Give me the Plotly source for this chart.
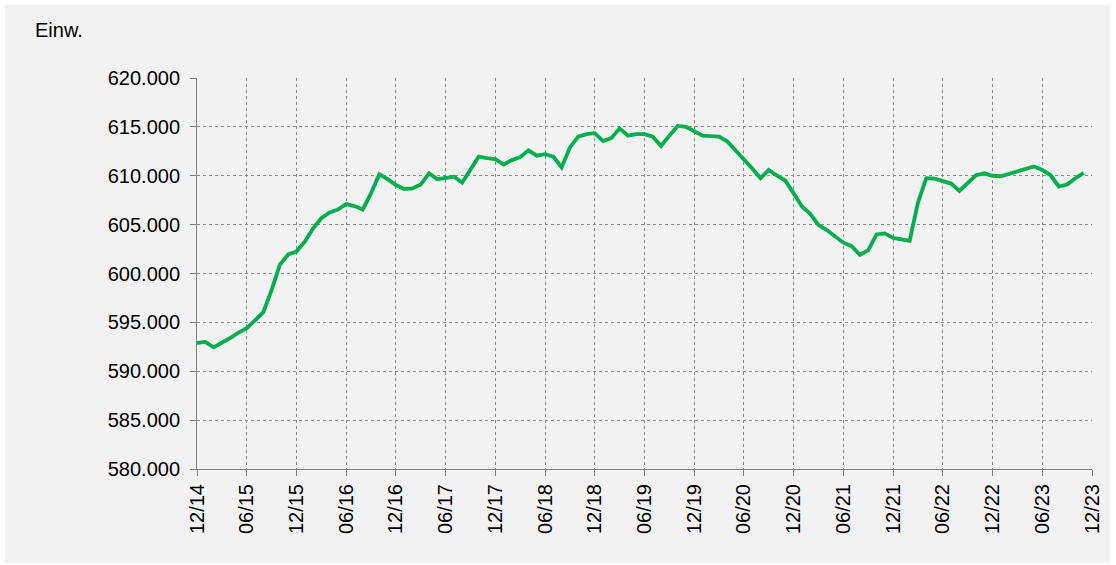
import plotly.graph_objects as go

# Monthly population (Einwohner), 12/2014 .. 11/2023
years_months = [(2014, 12)] + [(y, m) for y in range(2015, 2023) for m in range(1, 13)] + [(2023, m) for m in range(1, 12)]
month_labels = [f"{m:02d}/{y % 100:02d}" for (y, m) in years_months]

population = [
    592900,
    593000, 592450, 592900, 593400, 593950, 594400, 595200, 596050, 598300, 600900, 601950, 602250,
    603250, 604600, 605650, 606250, 606550, 607100, 606900, 606550, 608200, 610150, 609650, 609050,
    608650, 608700, 609100, 610250, 609650, 609750, 609900, 609300, 610600, 611950, 611800, 611700,
    611150, 611600, 611900, 612600, 612050, 612200, 611950, 610850, 612900, 614000, 614250, 614350,
    613550, 613850, 614850, 614100, 614250, 614250, 614000, 613050, 614100, 615100, 615000, 614500,
    614100, 614050, 614000, 613500, 612600, 611600, 610750, 609750, 610600, 610000, 609500, 608200,
    606850, 606100, 604950, 604450, 603750, 603150, 602800, 601900, 602400, 604000, 604100, 603650,
    603500, 603350, 607250, 609750, 609700, 609500, 609200, 608450, 609200, 610050, 610250, 610000,
    609950, 610200, 610400, 610700, 610950, 610600, 610050, 608900, 609100, 609750, 610300,
]

tick_labels = ["12/14", "06/15", "12/15", "06/16", "12/16", "06/17", "12/17", "06/18", "12/18",
               "06/19", "12/19", "06/20", "12/20", "06/21", "12/21", "06/22", "12/22", "06/23", "12/23"]
tick_positions = [i * 6 for i in range(len(tick_labels))]

x_idx = list(range(len(population)))

FONT = "Liberation Sans, Arial, sans-serif"

fig = go.Figure()
fig.add_trace(go.Scatter(
    x=x_idx, y=population, mode="lines",
    line=dict(color="#00B050", width=3.8),
    text=month_labels, hovertemplate="%{text}: %{y:,.0f}<extra></extra>",
))

W, H = 1116, 565
L, R, T, B = 197, 1092, 78, 469
pw, ph = R - L, B - T

fig.update_layout(
    width=W, height=H,
    margin=dict(l=L, r=W - R, t=T, b=H - B, pad=0),
    paper_bgcolor="white",
    plot_bgcolor="white",
    separators=",.",
    showlegend=False,
    font=dict(family=FONT, size=20, color="#000000"),
    xaxis=dict(
        range=[0, 108], tickmode="array", tickvals=tick_positions, ticktext=tick_labels,
        tickangle=-90, showgrid=True, gridcolor="#8c8c8c", griddash="dot", gridwidth=1,
        showline=True, linecolor="#808080", linewidth=1,
        ticks="outside", ticklen=6, tickcolor="#808080",
        zeroline=False, tickfont=dict(family=FONT, size=20, color="#000000"),
    ),
    yaxis=dict(
        range=[580000, 620000], dtick=5000, tick0=580000, tickformat=",.0f",
        showgrid=True, gridcolor="#8c8c8c", griddash="dot", gridwidth=1,
        showline=True, linecolor="#808080", linewidth=1,
        ticks="outside", ticklen=6, tickcolor="#808080", ticklabelstandoff=6,
        zeroline=False, tickfont=dict(family=FONT, size=20, color="#000000"),
    ),
    shapes=[dict(
        type="rect", xref="paper", yref="paper", layer="below",
        x0=(5 - L) / pw, x1=(1110 - L) / pw,
        y0=(B - 563) / ph, y1=(B - 5) / ph,
        fillcolor="#F2F2F2", line=dict(width=0),
    )],
    annotations=[dict(
        text="Einw.", xref="paper", yref="paper",
        x=(33 - L) / pw, y=(B - 30) / ph, xanchor="left", yanchor="middle",
        showarrow=False, font=dict(family=FONT, size=20, color="#000000"),
    )],
)

fig.write_html(
    "out.html",
    config={"displayModeBar": False},
    post_script="document.body.style.margin='0';document.body.style.overflow='hidden';",
)
